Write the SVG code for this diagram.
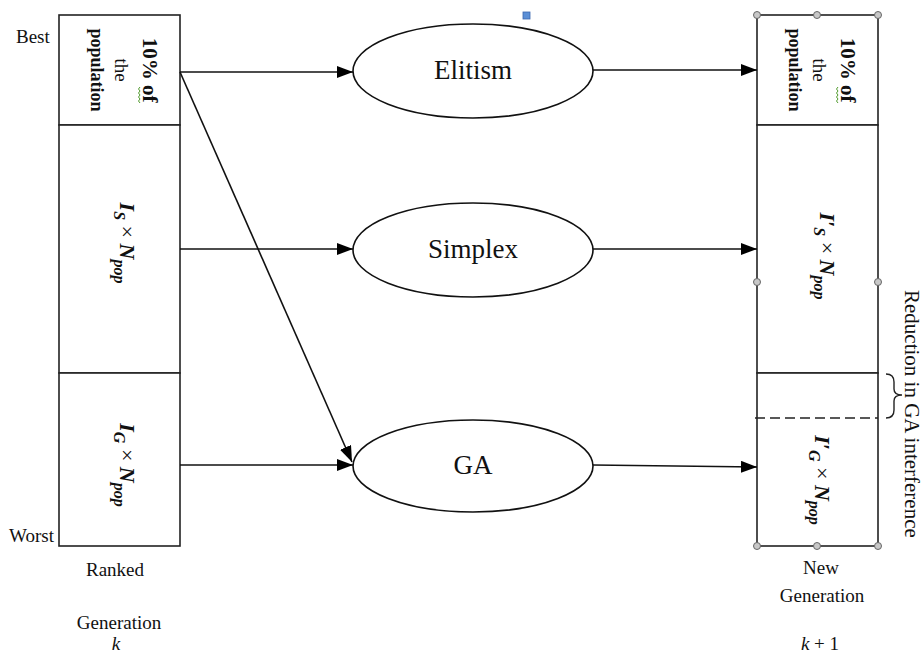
<svg xmlns="http://www.w3.org/2000/svg" width="923" height="656" viewBox="0 0 923 656">
<defs>
<marker id="arr" markerUnits="userSpaceOnUse" markerWidth="17" markerHeight="13" refX="16" refY="6" orient="auto">
<path d="M0,0 L16,6 L0,12 z" fill="#000"/>
</marker>
<style>
.box{fill:#fff;stroke:#222;stroke-width:1.6}
.ell{fill:#fff;stroke:#111;stroke-width:1.6}
.con{stroke:#111;stroke-width:1.6;fill:none;marker-end:url(#arr)}
.t{font-family:"Liberation Serif","Times New Roman",serif;fill:#111}
.lbl{font-size:19px}
.big{font-size:27px;text-anchor:middle}
.vb{font-size:21px;font-weight:bold;text-anchor:middle}
.vr{font-size:19px;text-anchor:middle}
.vp{font-size:18px;font-weight:bold;text-anchor:middle}
.m{font-size:22px;font-weight:bold;font-style:italic;text-anchor:middle}
.sub{font-size:16px}
.up{font-style:normal;font-weight:normal}
.h{fill:#c8c8c8;stroke:#666;stroke-width:1}
.sq{fill:none;stroke:#4f9a2c;stroke-width:1}
</style>
</defs>
<rect width="923" height="656" fill="#fff"/>

<g id="ranked">
<rect class="box" x="59" y="15" width="121" height="110"/>
<rect class="box" x="59" y="125" width="121" height="248"/>
<rect class="box" x="59" y="373" width="121" height="173"/>
<g transform="translate(120,70) rotate(90)">
<text class="t vb" x="0" y="-23">10% of</text>
<text class="t vr" x="0" y="5">the</text>
<text class="t vp" x="0" y="29">population</text>
</g>
<path class="sq" d="M140,87 l-1.5,2 l1.5,2 l-1.5,2 l1.5,2 l-1.5,2 l1.5,2 l-1.5,2 l1.5,2"/>
<g transform="translate(120,243) rotate(90)">
<text class="t m" x="0" y="0">I<tspan class="sub" dy="6">S</tspan><tspan class="up" dy="-6"> × </tspan>N<tspan class="sub" dy="6">pop</tspan></text>
</g>
<g transform="translate(120,465) rotate(90)">
<text class="t m" x="0" y="0">I<tspan class="sub" dy="6">G</tspan><tspan class="up" dy="-6"> × </tspan>N<tspan class="sub" dy="6">pop</tspan></text>
</g>
<text class="t lbl" x="16" y="43">Best</text>
<text class="t lbl" x="9" y="542">Worst</text>
<text class="t lbl" x="115" y="576" text-anchor="middle">Ranked</text>
<text class="t lbl" x="119" y="629" text-anchor="middle">Generation</text>
<text class="t lbl" x="116" y="650" text-anchor="middle" font-style="italic">k</text>
</g>

<g id="elitism">
<ellipse class="ell" cx="473" cy="71" rx="120" ry="47"/>
<text class="t big" x="473" y="79">Elitism</text>
</g>
<g id="simplex">
<ellipse class="ell" cx="473" cy="250" rx="120" ry="47"/>
<text class="t big" x="473" y="258">Simplex</text>
</g>
<g id="ga">
<ellipse class="ell" cx="473" cy="466" rx="120" ry="46"/>
<text class="t big" x="473" y="474">GA</text>
</g>

<g id="newgen">
<rect class="box" x="757" y="15" width="121" height="110"/>
<rect class="box" x="757" y="125" width="121" height="248"/>
<rect class="box" x="757" y="373" width="121" height="173"/>
<line x1="755" y1="418" x2="878" y2="418" stroke="#222" stroke-width="1.6" stroke-dasharray="10,5"/>
<g transform="translate(818,70) rotate(90)">
<text class="t vb" x="0" y="-23">10% of</text>
<text class="t vr" x="0" y="5">the</text>
<text class="t vp" x="0" y="29">population</text>
</g>
<path class="sq" d="M838,87 l-1.5,2 l1.5,2 l-1.5,2 l1.5,2 l-1.5,2 l1.5,2 l-1.5,2 l1.5,2"/>
<g transform="translate(820,256) rotate(90)">
<text class="t m" x="0" y="0">I′<tspan class="sub" dy="6">S</tspan><tspan class="up" dy="-6"> × </tspan>N<tspan class="sub" dy="6">pop</tspan></text>
</g>
<g transform="translate(815,480) rotate(90)">
<text class="t m" x="0" y="0">I′<tspan class="sub" dy="6">G</tspan><tspan class="up" dy="-6"> × </tspan>N<tspan class="sub" dy="6">pop</tspan></text>
</g>
<circle class="h" cx="757" cy="15" r="3.5"/>
<circle class="h" cx="817" cy="15" r="3.5"/>
<circle class="h" cx="878" cy="15" r="3.5"/>
<circle class="h" cx="757" cy="282" r="3.5"/>
<circle class="h" cx="878" cy="282" r="3.5"/>
<circle class="h" cx="757" cy="546" r="3.5"/>
<circle class="h" cx="817" cy="546" r="3.5"/>
<circle class="h" cx="878" cy="546" r="3.5"/>
<text class="t lbl" x="821" y="574" text-anchor="middle">New</text>
<text class="t lbl" x="822" y="602" text-anchor="middle">Generation</text>
<text class="t lbl" x="820" y="650" text-anchor="middle"><tspan font-style="italic">k</tspan> + 1</text>
</g>

<g id="reduction">
<path d="M886,374 Q894,374 894,382 L894,389 Q894,395 902,395 Q894,395 894,401 L894,410 Q894,418 886,418" fill="none" stroke="#222" stroke-width="1.4"/>
<g transform="translate(905,290) rotate(90)">
<text class="t" x="0" y="0" font-size="21">Reduction in GA interference</text>
</g>
</g>

<rect x="523" y="12" width="7" height="7" fill="#5b8fd6" stroke="#3a67b0" stroke-width="0.8"/>

<g id="connectors">
<line class="con" x1="180" y1="72" x2="353" y2="72"/>
<line class="con" x1="180" y1="72" x2="352" y2="462"/>
<line class="con" x1="180" y1="249" x2="353" y2="249"/>
<line class="con" x1="180" y1="465" x2="353" y2="465"/>
<line class="con" x1="593" y1="70" x2="757" y2="70"/>
<line class="con" x1="593" y1="249" x2="757" y2="249"/>
<line class="con" x1="593" y1="465" x2="757" y2="467"/>
</g>
</svg>
